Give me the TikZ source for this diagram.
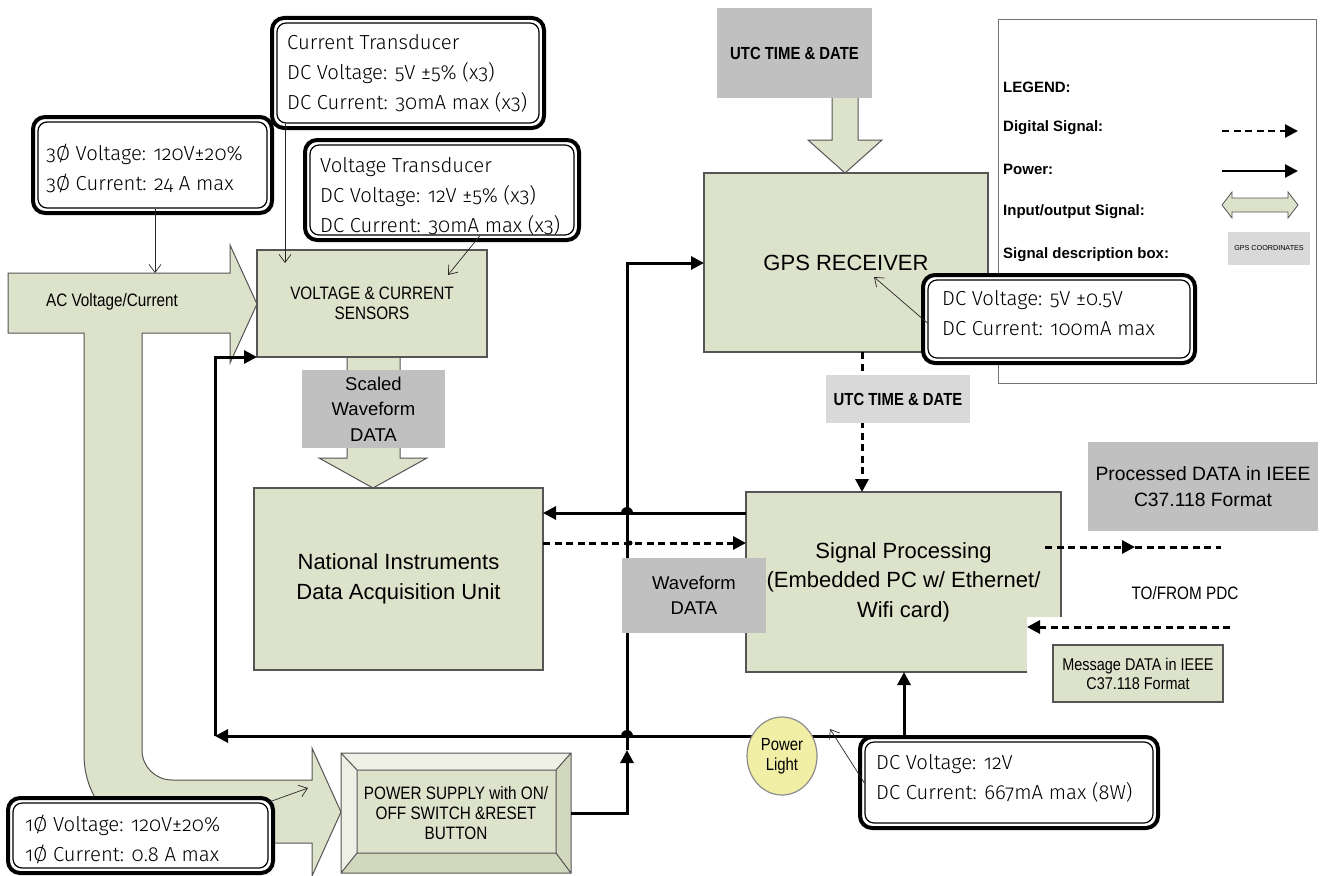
\documentclass[tikz,border=0pt]{standalone}
\usepackage{fontspec}
\setmainfont{Liberation Sans}
\newfontfamily\callfont{Fira Sans Light}[Numbers=OldStyle]
\newfontfamily\narrowfont{Liberation Sans}[FakeStretch=0.85]
\usetikzlibrary{arrows.meta,fit,shapes.geometric}
\definecolor{boxgreen}{RGB}{221,226,203}
\definecolor{boxlight}{RGB}{238,240,230}
\definecolor{boxdark}{RGB}{210,216,190}
\definecolor{boxedge}{RGB}{85,85,85}
\definecolor{descgray}{RGB}{192,192,192}
\definecolor{descgray2}{RGB}{217,217,217}
\definecolor{lampyellow}{RGB}{241,239,166}
\tikzset{
  unitbox/.style={draw=boxedge, fill=boxgreen, line width=1.2pt, inner sep=0pt, outer sep=0pt, align=center},
  descbox/.style={fill=descgray, inner sep=0pt, outer sep=0pt, align=center},
  blockarrow/.style={draw=boxedge, fill=boxgreen, line width=1pt, line join=miter},
  wire/.style={line width=3pt},
  power/.style={line width=3pt, -{Triangle[length=13pt,width=13pt]}},
  dashline/.style={line width=3pt, dash pattern=on 7pt off 4.5pt},
  digital/.style={line width=3pt, dash pattern=on 7pt off 4.5pt, -{Triangle[length=13pt,width=13pt]}},
  pointer/.style={line width=0.7pt, draw=black!85, -{Straight Barb[length=8pt,width=12pt,line width=0.7pt]}},
  callframe/.style={line width=4pt, rounded corners=12pt, fill=white},
  callinner/.style={draw, line width=1.2pt, rounded corners=9pt, inner sep=0pt},
  calltext/.style={font=\callfont\fontsize{20.3}{30}\selectfont, align=left, inner sep=0pt, anchor=west},
  legtext/.style={anchor=west, font=\bfseries\fontsize{15}{18}\selectfont, inner sep=0pt},
  bigtext/.style={font=\fontsize{22}{29.5}\selectfont},
  midtext/.style={font=\fontsize{18.5}{25.5}\selectfont},
  narrowtext/.style={font=\narrowfont\fontsize{18}{19.5}\selectfont},
}
% name, x1, y1, x2, y2, text x, text y, text
\newcommand\mkcallout[8]{%
  \draw[callframe] (#2,#3) rectangle (#4,#5);
  \node[callinner, fit={(#2+5,#3+5) (#4-5,#5-5)}] (#1) {};
  \node[calltext] (#1-t) at (#6,#7) {#8};
}
\begin{document}
\begin{tikzpicture}[x=1pt,y=-1pt]
\useasboundingbox (0,0) rectangle (1321,875);
\fill[white] (0,0) rectangle (1321,875);

% ---------- legend ----------
\node[draw=black!55, line width=0.9pt, minimum width=318pt, minimum height=364pt, inner sep=0pt] (legend) at (1157,201) {};
\node[legtext] (lg0) at (1003,87) {LEGEND:};
\node[legtext] (lg1) at (1003,128) {Digital Signal:};
\node[legtext] (lg2) at (1003,169) {Power:};
\node[legtext] (lg3) at (1003,212) {Input/output Signal:};
\node[legtext] (lg4) at (1003,255) {Signal description box:};
\coordinate (la1) at (1222,131); \coordinate (la2) at (1298,131);
\draw[digital, line width=2.6pt] (la1) -- (la2);
\coordinate (lb1) at (1222,171); \coordinate (lb2) at (1298,171);
\draw[power, line width=2.6pt] (lb1) -- (lb2);
\draw[blockarrow, line width=0.8pt] (1222,205) -- (1232,192) -- (1232,198) -- (1288,198) -- (1288,192) -- (1298,205) -- (1288,218) -- (1288,212) -- (1232,212) -- (1232,218) -- cycle;
\node[fill=descgray2, minimum width=82pt, minimum height=33pt, inner sep=0pt, font=\fontsize{7.2}{9}\selectfont] (lgbox) at (1269,248.5) {GPS COORDINATES};

% ---------- AC input arrow with branch to power supply ----------
\draw[blockarrow] (8,273) -- (230,273) -- (230,245) -- (257,304) -- (230,363) -- (230,333) -- (142,333) -- (142,750)
  arc[start angle=180,end angle=270,radius=30pt] -- (312,780) -- (312,748) -- (341,812) -- (312,876) -- (312,843) -- (172,843)
  arc[start angle=270,end angle=180,radius=88pt] -- (84,333) -- (8,333) -- cycle;
\node[narrowtext] (actext) at (112,302) {AC Voltage/Current};

% ---------- sensors and scaled waveform ----------
\draw[blockarrow] (347,357) -- (347,458) -- (319,458) -- (373,488) -- (427,458) -- (400,458) -- (400,357);
\node[unitbox, minimum width=230pt, minimum height=107pt, narrowtext] (sens) at (372,303.5) {VOLTAGE \& CURRENT\\SENSORS};
\node[descbox, minimum width=143pt, minimum height=78pt, midtext] (scaled) at (373.5,409) {Scaled\\Waveform\\DATA};
\node[unitbox, minimum width=289pt, minimum height=182pt, bigtext] (ni) at (398.5,579) {National Instruments\\Data Acquisition Unit};

% ---------- GPS ----------
\draw[blockarrow] (832,98) -- (832,140) -- (808,140) -- (845,173) -- (882,140) -- (858,140) -- (858,98);
\node[descbox, minimum width=155pt, minimum height=90pt, font=\narrowfont\bfseries\fontsize{17.5}{20}\selectfont] (utctop) at (794.5,53) {UTC TIME \& DATE};
\node[unitbox, minimum width=284pt, minimum height=179pt, bigtext] (gps) at (846,262.5) {GPS RECEIVER};

% ---------- signal processing ----------
\node[unitbox, minimum width=315pt, minimum height=180pt, bigtext] (sp) at (903.5,582) {Signal Processing\\(Embedded PC w/ Ethernet/\\Wifi card)};
\fill[white] (1027,617) rectangle (1066,676);
\node[descbox, minimum width=230pt, minimum height=89pt, font=\fontsize{19.3}{25.5}\selectfont] (proc) at (1203,486.5) {Processed DATA in IEEE\\C37.118 Format};
\node[font=\narrowfont\fontsize{18}{20}\selectfont] (tofrom) at (1185,593) {TO/FROM PDC};
\node[unitbox, minimum width=170pt, minimum height=57pt, font=\narrowfont\fontsize{17}{19}\selectfont] (msg) at (1138,673.5) {Message DATA in IEEE\\C37.118 Format};

% ---------- power supply ----------
\fill[boxgreen] (341,753) rectangle (571,873);
\fill[boxlight] (341,753) -- (571,753) -- (556,770) -- (357,770) -- cycle;
\fill[boxlight] (341,753) -- (357,770) -- (357,853) -- (341,873) -- cycle;
\fill[boxdark] (571,753) -- (571,873) -- (556,853) -- (556,770) -- cycle;
\fill[boxdark] (341,873) -- (571,873) -- (556,853) -- (357,853) -- cycle;
\draw[boxedge, line width=1pt] (341,753) rectangle (571,873) (357,770) rectangle (556,853)
  (341,753) -- (357,770) (571,753) -- (556,770) (341,873) -- (357,853) (571,873) -- (556,853);
\node[minimum width=230pt, minimum height=120pt, inner sep=0pt, outer sep=0pt, align=center, font=\narrowfont\fontsize{18}{20}\selectfont] (ps) at (456,813) {POWER SUPPLY with ON/\\OFF SWITCH \&RESET\\BUTTON};

% ---------- power wiring ----------
\coordinate (jb) at (627,736);
\coordinate (pup) at (627,750);
\coordinate (gpsin) at (627,263);
\coordinate (bl) at (215,736);
\coordinate (sensin) at (215,357);
\coordinate (br) at (904,736);
\coordinate (ysolid) at (0,513);
\coordinate (ydash) at (0,543);
\draw[power] (ps.east) -| (pup);
\draw[wire] (pup) -- (jb);
\draw[power] (jb) -- (gpsin) -- (gps.west |- gpsin);
\draw[power] (jb) -- (bl);
\draw[power] (bl) -- (sensin) -- (sens.south west);
\draw[power] (jb) -- (br) -- (sp.south -| br);
\draw[power] (sp.west |- ysolid) -- (ni.east |- ysolid);
\draw[digital] (ni.east |- ydash) -- (sp.west |- ydash);
\fill (621,513) arc[start angle=180,end angle=0,radius=6pt] -- cycle;
\fill (621,736) arc[start angle=180,end angle=0,radius=6pt] -- cycle;
\fill (627,543) ++(3pt,0) circle (2.5pt);

% ---------- digital signals ----------
\coordinate (xd) at (862,0);
\draw[digital] (gps.south -| xd) -- (sp.north -| xd);
\node[fill=descgray2, minimum width=144pt, minimum height=48pt, inner sep=0pt, font=\narrowfont\bfseries\fontsize{17.5}{20}\selectfont] (utc2) at (898,399) {UTC TIME \& DATE};
\coordinate (o1) at (1045,547); \coordinate (o2) at (1135,547); \coordinate (o3) at (1221,547);
\draw[digital] (o1) -- (o2);
\draw[dashline] (o2) -- (o3);
\coordinate (i1) at (1230,627); \coordinate (i2) at (1027,627);
\draw[digital] (i1) -- (i2);

% ---------- waveform data label ----------
\node[descbox, minimum width=144pt, minimum height=75pt, midtext] (wave) at (694,595.5) {Waveform\\DATA};

% ---------- power light ----------
\node[ellipse, draw=black!45, line width=1.2pt, fill=lampyellow, minimum width=70pt, minimum height=78pt, inner sep=0pt, align=center, font=\narrowfont\fontsize{17.5}{20}\selectfont] (lamp) at (782,756) {Power\\Light};

% ---------- callouts ----------
\mkcallout{ct}{272}{18}{544}{128}{287}{73}{Current Transducer\\DC Voltage: 5V ±5\% (x3)\\DC Current: 30mA max (x3)}
\mkcallout{c3}{33}{117}{272}{213}{46}{168}{3Ø Voltage: 120V±20\%\\3Ø Current: 24 A max}
\mkcallout{vt}{305}{140}{579}{240}{320}{196}{Voltage Transducer\\DC Voltage: 12V ±5\% (x3)\\DC Current: 30mA max (x3)}
\mkcallout{gc}{923}{275}{1195}{363}{942}{313}{DC Voltage: 5V ±0.5V\\DC Current: 100mA max}
\mkcallout{c12}{860}{737}{1158}{828}{876}{778}{DC Voltage: 12V\\DC Current: 667mA max (8W)}
\mkcallout{c1}{8}{798}{273}{873}{25}{839}{1Ø Voltage: 120V±20\%\\1Ø Current: 0.8 A max}

% ---------- callout pointers ----------
\coordinate (p3) at (155,273);
\coordinate (pct) at (285,263);
\coordinate (pvt0) at (480,0); \coordinate (pvt) at (448,275);
\coordinate (pg0) at (0,323); \coordinate (pg) at (874,277);
\coordinate (p120) at (0,783); \coordinate (p12) at (830,729);
\coordinate (p10) at (268,0); \coordinate (p1) at (308,788);
\draw[pointer] (c3.south -| p3) -- (p3);
\draw[pointer] (ct.south -| pct) -- (pct);
\draw[pointer] (vt.south -| pvt0) -- (pvt);
\draw[pointer] (gc.west |- pg0) -- (pg);
\draw[pointer] (c12.west |- p120) -- (p12);
\draw[pointer] (c1.north -| p10) -- (p1);
\end{tikzpicture}
\end{document}
